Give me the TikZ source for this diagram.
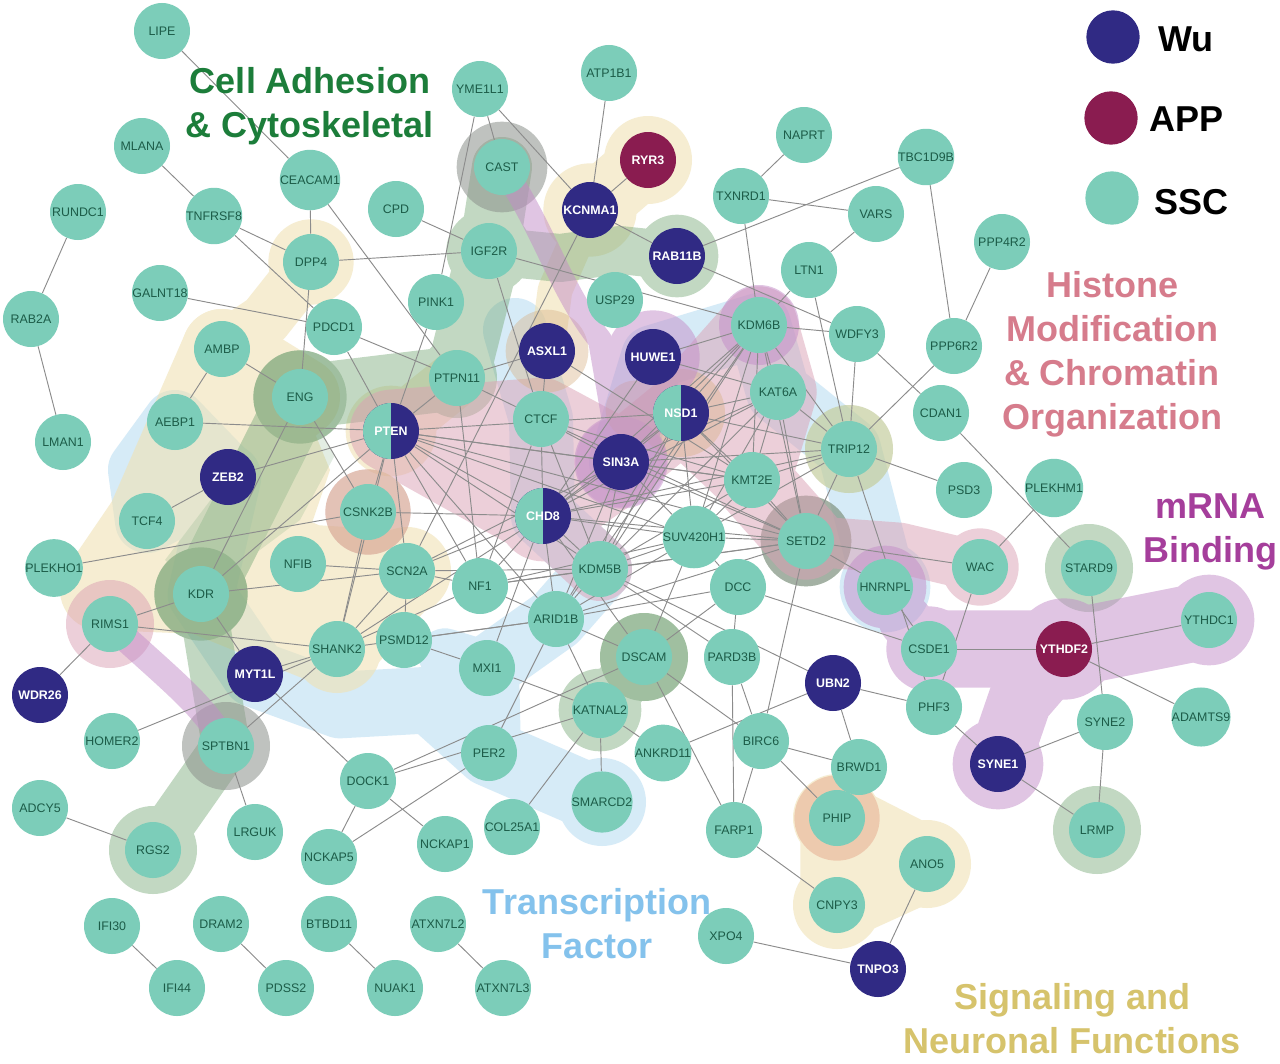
\documentclass[tikz,border=0pt]{standalone}
\usepackage{fontspec}
\setmainfont{Liberation Sans}
\pgfdeclarelayer{blobs}
\pgfdeclarelayer{edges}
\pgfsetlayers{blobs,edges,main}
\definecolor{ssc}{RGB}{124,205,185}
\definecolor{wu}{RGB}{48,42,132}
\definecolor{app}{RGB}{138,28,80}
\definecolor{gtext}{RGB}{28,92,72}
\definecolor{edgec}{RGB}{140,140,140}
\definecolor{cblue}{RGB}{188,222,243}
\definecolor{cyellow}{RGB}{240,226,180}
\definecolor{cgreen}{RGB}{120,170,120}
\definecolor{cdgreen}{RGB}{110,155,110}
\definecolor{cgray}{RGB}{140,145,140}
\definecolor{cpink}{RGB}{219,160,180}
\definecolor{cpurple}{RGB}{195,140,200}
\definecolor{ctan}{RGB}{215,176,130}
\definecolor{cpeach}{RGB}{230,168,140}
\definecolor{lgreen}{RGB}{28,125,58}
\definecolor{lpink}{RGB}{214,124,140}
\definecolor{lpurple}{RGB}{165,62,155}
\definecolor{lblue}{RGB}{132,194,236}
\definecolor{lyellow}{RGB}{214,195,108}
\newcommand\gf{\fontsize{9.3}{10}\selectfont}
\newcommand\gfb{\fontsize{9.3}{10}\selectfont\bfseries}
\newcommand\bigf{\fontsize{27}{33}\selectfont\bfseries}
\tikzset{
  gene/.style={circle, fill=ssc, minimum size=42pt, inner sep=0pt, font=\gf, text=gtext},
  wu/.style={gene, fill=wu, text=white, font=\gfb},
  app/.style={gene, fill=app, text=white, font=\gfb},
  halfnode/.style={gene, fill=wu, text=white, font=\gfb,
    path picture={\fill[ssc] (path picture bounding box.south west) rectangle (path picture bounding box.north);}},
  link/.style={draw=edgec, line width=0.7pt},
  band/.style={line cap=round, line join=round},
  grp/.style={transparency group, opacity=#1},
  biglabel/.style={font=\bigf, align=center, inner sep=0pt},
  legtext/.style={font=\bigf, anchor=west, inner sep=0pt, text=black},
  legdot/.style={circle, minimum size=40pt, inner sep=0pt},
}
\begin{document}
\begin{tikzpicture}[x=0.75pt,y=-0.75pt]
\useasboundingbox (0,0) rectangle (1280,1063);
% ---------------- nodes ----------------
\node[gene] (LIPE) at (162,31) {LIPE};
\node[gene] (YME1L1) at (480,89) {YME1L1};
\node[gene] (ATP1B1) at (609,73) {ATP1B1};
\node[gene] (NAPRT) at (804,135) {NAPRT};
\node[gene] (TBC1D9B) at (926,157) {TBC1D9B};
\node[gene] (MLANA) at (142,146) {MLANA};
\node[gene] (CEACAM1) at (310,180) {CEACAM1};
\node[gene] (CAST) at (502,167) {CAST};
\node[app] (RYR3) at (648,160) {RYR3};
\node[wu] (KCNMA1) at (590,210) {KCNMA1};
\node[gene] (TXNRD1) at (741,196) {TXNRD1};
\node[gene] (VARS) at (876,214) {VARS};
\node[gene] (PPP4R2) at (1002,242) {PPP4R2};
\node[gene] (RUNDC1) at (78,212) {RUNDC1};
\node[gene] (TNFRSF8) at (214,216) {TNFRSF8};
\node[gene] (CPD) at (396,209) {CPD};
\node[gene] (IGF2R) at (489,251) {IGF2R};
\node[wu] (RAB11B) at (677,256) {RAB11B};
\node[gene] (LTN1) at (809,270) {LTN1};
\node[gene] (DPP4) at (311,262) {DPP4};
\node[gene] (GALNT18) at (160,293) {GALNT18};
\node[gene] (PINK1) at (436,302) {PINK1};
\node[gene] (USP29) at (615,300) {USP29};
\node[gene] (RAB2A) at (31,319) {RAB2A};
\node[gene] (PDCD1) at (334,327) {PDCD1};
\node[gene] (KDM6B) at (759,325) {KDM6B};
\node[gene] (WDFY3) at (857,334) {WDFY3};
\node[gene] (PPP6R2) at (954,346) {PPP6R2};
\node[gene] (AMBP) at (222,349) {AMBP};
\node[wu] (ASXL1) at (547,351) {ASXL1};
\node[wu] (HUWE1) at (653,357) {HUWE1};
\node[gene] (ENG) at (300,397) {ENG};
\node[gene] (PTPN11) at (457,378) {PTPN11};
\node[gene] (KAT6A) at (778,392) {KAT6A};
\node[halfnode] (NSD1) at (681,413) {NSD1};
\node[gene] (CTCF) at (541,419) {CTCF};
\node[halfnode] (PTEN) at (391,431) {PTEN};
\node[gene] (AEBP1) at (175,422) {AEBP1};
\node[gene] (CDAN1) at (941,413) {CDAN1};
\node[gene] (LMAN1) at (63,442) {LMAN1};
\node[gene] (TRIP12) at (849,449) {TRIP12};
\node[wu] (SIN3A) at (621,462) {SIN3A};
\node[wu] (ZEB2) at (228,477) {ZEB2};
\node[gene] (KMT2E) at (752,480) {KMT2E};
\node[gene] (PSD3) at (964,490) {PSD3};
\node[gene] (PLEKHM1) at (1054,488) {PLEKHM1};
\node[gene] (CSNK2B) at (368,512) {CSNK2B};
\node[gene] (TCF4) at (147,521) {TCF4};
\node[halfnode] (CHD8) at (543,516) {CHD8};
\node[gene] (SUV420H1) at (694,537) {SUV420H1};
\node[gene] (SETD2) at (806,541) {SETD2};
\node[gene] (STARD9) at (1089,568) {STARD9};
\node[gene] (WAC) at (980,567) {WAC};
\node[gene] (NFIB) at (298,564) {NFIB};
\node[gene] (PLEKHO1) at (54,568) {PLEKHO1};
\node[gene] (SCN2A) at (407,571) {SCN2A};
\node[gene] (NF1) at (480,586) {NF1};
\node[gene] (KDM5B) at (600,569) {KDM5B};
\node[gene] (HNRNPL) at (885,587) {HNRNPL};
\node[gene] (DCC) at (738,587) {DCC};
\node[gene] (KDR) at (201,594) {KDR};
\node[gene] (ARID1B) at (556,619) {ARID1B};
\node[gene] (RIMS1) at (110,624) {RIMS1};
\node[gene] (YTHDC1) at (1209,620) {YTHDC1};
\node[app] (YTHDF2) at (1064,649) {YTHDF2};
\node[gene] (CSDE1) at (929,649) {CSDE1};
\node[gene] (SHANK2) at (337,649) {SHANK2};
\node[gene] (PSMD12) at (404,640) {PSMD12};
\node[gene] (DSCAM) at (644,657) {DSCAM};
\node[gene] (PARD3B) at (732,657) {PARD3B};
\node[wu] (MYT1L) at (255,674) {MYT1L};
\node[gene] (MXI1) at (487,668) {MXI1};
\node[wu] (UBN2) at (833,683) {UBN2};
\node[wu] (WDR26) at (40,695) {WDR26};
\node[gene] (KATNAL2) at (600,710) {KATNAL2};
\node[gene] (PHF3) at (934,707) {PHF3};
\node[gene] (SYNE2) at (1105,722) {SYNE2};
\node[gene] (ADAMTS9) at (1201,717) {ADAMTS9};
\node[gene] (HOMER2) at (112,741) {HOMER2};
\node[gene] (SPTBN1) at (226,746) {SPTBN1};
\node[gene] (BIRC6) at (761,741) {BIRC6};
\node[gene] (BRWD1) at (859,767) {BRWD1};
\node[gene] (PER2) at (489,753) {PER2};
\node[gene] (ANKRD11) at (663,753) {ANKRD11};
\node[wu] (SYNE1) at (998,764) {SYNE1};
\node[gene] (DOCK1) at (368,781) {DOCK1};
\node[gene] (ADCY5) at (40,808) {ADCY5};
\node[gene] (SMARCD2) at (602,802) {SMARCD2};
\node[gene] (PHIP) at (837,818) {PHIP};
\node[gene] (LRMP) at (1097,830) {LRMP};
\node[gene] (RGS2) at (153,850) {RGS2};
\node[gene] (LRGUK) at (255,832) {LRGUK};
\node[gene] (COL25A1) at (512,827) {COL25A1};
\node[gene] (FARP1) at (734,830) {FARP1};
\node[gene] (NCKAP5) at (329,857) {NCKAP5};
\node[gene] (NCKAP1) at (445,844) {NCKAP1};
\node[gene] (ANO5) at (927,864) {ANO5};
\node[gene] (CNPY3) at (837,905) {CNPY3};
\node[gene] (IFI30) at (112,926) {IFI30};
\node[gene] (DRAM2) at (221,924) {DRAM2};
\node[gene] (BTBD11) at (329,924) {BTBD11};
\node[gene] (ATXN7L2) at (438,924) {ATXN7L2};
\node[gene] (XPO4) at (726,936) {XPO4};
\node[wu] (TNPO3) at (878,969) {TNPO3};
\node[gene] (IFI44) at (177,988) {IFI44};
\node[gene] (PDSS2) at (286,988) {PDSS2};
\node[gene] (NUAK1) at (395,988) {NUAK1};
\node[gene] (ATXN7L3) at (503,988) {ATXN7L3};
% ---------------- labels ----------------
\node[biglabel, text=lgreen] (lblcell) at (310,106) {Cell Adhesion\\\& Cytoskeletal};
\node[biglabel, text=lpink] (lblhist) at (1112,354) {Histone\\Modification\\\& Chromatin\\Organization};
\node[biglabel, text=lpurple] (lblmrna) at (1210,532) {mRNA\\Binding};
\node[biglabel, text=lblue] (lbltf) at (597,924) {Transcription\\Factor};
\node[biglabel, text=lyellow] (lblsig) at (1072,1019) {Signaling and\\Neuronal Functions};
% legend
\node[legdot, fill=wu] (legwu) at (1113,37) {};
\node[legtext] (legwut) at (1158,39) {Wu};
\node[legdot, fill=app] (legapp) at (1111,118) {};
\node[legtext] (legappt) at (1149,119) {APP};
\node[legdot, fill=ssc] (legssc) at (1112,198) {};
\node[legtext] (legssct) at (1154,202) {SSC};
% ---------------- edges ----------------
\begin{pgfonlayer}{edges}
\foreach \a/\b in {LIPE/CEACAM1, MLANA/TNFRSF8, RUNDC1/RAB2A, RAB2A/LMAN1, CEACAM1/DPP4, CEACAM1/PTPN11, TNFRSF8/DPP4, TNFRSF8/PDCD1, CPD/IGF2R, DPP4/IGF2R, DPP4/ENG, GALNT18/PDCD1, PDCD1/PTPN11, PDCD1/PTEN, AMBP/ENG, AMBP/AEBP1, AEBP1/PTEN, PINK1/PTEN, ZEB2/PTEN, ZEB2/TCF4, ENG/KDR, ENG/CSNK2B, PLEKHO1/CSNK2B, CSNK2B/CHD8, PTEN/CSNK2B, PTEN/PTPN11, PTEN/KDR, PTEN/SCN2A, PTEN/SHANK2, PTEN/NF1, PTEN/ARID1B, PTEN/CHD8, PTEN/KDM5B, PTEN/SIN3A, PTEN/SUV420H1, PTEN/SETD2, PTEN/KMT2E, PTEN/NSD1,
YME1L1/CAST, YME1L1/KCNMA1, YME1L1/PINK1, ATP1B1/KCNMA1, RYR3/KCNMA1, KCNMA1/RAB11B, KCNMA1/SCN2A, IGF2R/KDM6B, IGF2R/CTCF, PTPN11/ASXL1, PTPN11/CTCF, PTPN11/NF1, RAB11B/TBC1D9B, RAB11B/WDFY3, TXNRD1/NAPRT, TXNRD1/VARS, TXNRD1/KDM6B, VARS/LTN1, LTN1/KDM6B, LTN1/TRIP12, KDM6B/WDFY3, KDM6B/HUWE1, KDM6B/KAT6A, HUWE1/KAT6A, HUWE1/CHD8, ASXL1/KMT2E, ASXL1/CTCF, CTCF/SIN3A, CTCF/CHD8, CTCF/KDM5B, CTCF/NF1, CTCF/SETD2,
TBC1D9B/PPP6R2, PPP4R2/PPP6R2, WDFY3/CDAN1, WDFY3/TRIP12, PPP6R2/TRIP12, TRIP12/PSD3, TRIP12/PHF3, CDAN1/STARD9, PLEKHM1/WAC, SETD2/WAC, SETD2/HNRNPL, HNRNPL/CSDE1, DCC/CSDE1, WAC/PHF3, CSDE1/YTHDF2, YTHDF2/YTHDC1, YTHDF2/ADAMTS9, STARD9/SYNE2, SYNE2/SYNE1, SYNE2/LRMP, SYNE1/LRMP, PHF3/SYNE1, UBN2/PHF3, UBN2/BRWD1, BRWD1/PHIP, ANO5/TNPO3, XPO4/TNPO3,
NF1/ARID1B, NF1/SCN2A, NF1/KDM5B, NF1/CHD8, ARID1B/DSCAM, ARID1B/KATNAL2, ARID1B/PER2, KATNAL2/SMARCD2, KATNAL2/COL25A1, KATNAL2/ANKRD11, MXI1/KATNAL2, MXI1/CHD8, PSMD12/MXI1, PSMD12/SCN2A, PSMD12/ARID1B, DSCAM/BIRC6, DSCAM/FARP1, DSCAM/SUV420H1, DSCAM/DCC, DSCAM/DOCK1, KATNAL2/DOCK1, PER2/NCKAP5, DOCK1/NCKAP5, DOCK1/NCKAP1, DOCK1/MYT1L, MYT1L/SHANK2, MYT1L/KDR, RIMS1/SHANK2, RIMS1/KDR, RIMS1/WDR26, HOMER2/SHANK2, SPTBN1/SHANK2, SPTBN1/LRGUK, ADCY5/RGS2, IFI30/IFI44, DRAM2/PDSS2, BTBD11/NUAK1, ATXN7L2/ATXN7L3, KDR/SCN2A, NFIB/SCN2A, SHANK2/SCN2A, SHANK2/CSNK2B, SHANK2/NF1, SHANK2/CHD8, SHANK2/ARID1B, PARD3B/FARP1, PARD3B/BIRC6, KDM5B/PARD3B, DCC/PARD3B, KDM5B/UBN2, UBN2/ANKRD11, BIRC6/BRWD1, BIRC6/PHIP, BIRC6/FARP1, SETD2/BIRC6, FARP1/CNPY3, DCC/SUV420H1,
CHD8/SIN3A, CHD8/NSD1, CHD8/KMT2E, CHD8/KDM6B, CHD8/KAT6A, CHD8/SETD2, CHD8/SUV420H1, CHD8/KDM5B, CHD8/ARID1B, CHD8/TRIP12, CHD8/DSCAM, SIN3A/NSD1, SIN3A/KDM6B, SIN3A/KAT6A, SIN3A/KMT2E, SIN3A/SETD2, SIN3A/SUV420H1, SIN3A/KDM5B, SIN3A/ARID1B, SIN3A/TRIP12, NSD1/KDM6B, NSD1/KAT6A, NSD1/KMT2E, NSD1/SETD2, NSD1/SUV420H1, NSD1/KDM5B, NSD1/ARID1B, NSD1/TRIP12, KDM6B/KMT2E, KDM6B/SETD2, KDM6B/SUV420H1, KDM6B/KDM5B, KDM6B/TRIP12, KDM6B/ARID1B, KAT6A/KMT2E, KAT6A/SETD2, KAT6A/TRIP12, KAT6A/SUV420H1, KAT6A/KDM5B, KMT2E/SETD2, KMT2E/TRIP12, KMT2E/SUV420H1, KMT2E/KDM5B, SETD2/TRIP12, SETD2/SUV420H1, SETD2/KDM5B, SETD2/ARID1B, SUV420H1/KDM5B, SUV420H1/ARID1B, KDM5B/ARID1B, TRIP12/SUV420H1, NF1/SUV420H1, SCN2A/CHD8, SCN2A/SIN3A, SCN2A/KDM5B, NF1/SETD2, ARID1B/DCC, CTCF/KMT2E}
  \draw[link] (\a) -- (\b);
\end{pgfonlayer}
% ---------------- background groups ----------------
\begin{pgfonlayer}{blobs}
\fill[white] (0,0) rectangle (1280,1063);
% transcription factor (blue)
\begin{scope}[grp=0.6]\begin{scope}[color=cblue]
\fill (AEBP1.center) -- (ZEB2.center) -- (TCF4.center) -- (140,470) -- cycle;
\draw[line width=48pt,band] (AEBP1.center) -- (ZEB2.center) -- (TCF4.center) -- (140,470) -- (AEBP1.center);
\draw[line width=50pt,band] (ZEB2.center) -- (KDR.center) -- (MYT1L.center) -- (340,705) -- (430,700) -- (PER2.center) -- (SMARCD2.center);
\draw[line width=48pt,band] (PER2.center) -- (MXI1.center) -- (ARID1B.center) -- (KDM5B.center) -- (CHD8.center) -- (CTCF.center) -- (515,330);
\draw[line width=40pt,band] (MXI1.center) -- (445,655);
\draw[line width=48pt,band] (SIN3A.center) -- (HUWE1.center) -- (KDM6B.center) -- (KAT6A.center) -- (TRIP12.center) -- (HNRNPL.center);
\fill (SMARCD2.center) circle[radius=33pt];
\fill (HNRNPL.center) circle[radius=34pt];
\end{scope}\end{scope}
% signaling and neuronal (yellow)
\begin{scope}[grp=0.6]\begin{scope}[color=cyellow]
\fill (DPP4.center) circle[radius=32pt];
\draw[line width=40pt,band] (DPP4.center) -- (265,320) -- (AMBP.center);
\fill (AMBP.center) -- (ENG.center) -- (330,470) -- (NFIB.center) -- (SHANK2.center) -- (KDR.center) -- (95,600) -- (TCF4.center) -- cycle;
\draw[line width=60pt,band] (AMBP.center) -- (TCF4.center) -- (100,590) -- (KDR.center) -- (NFIB.center) -- (SCN2A.center) -- (SHANK2.center);
\draw[line width=60pt,band] (AMBP.center) -- (ENG.center) -- (TCF4.center) -- (KDR.center) -- (SHANK2.center);
\fill (PTEN.center) circle[radius=34pt];
\draw[line width=42pt,band] (PTEN.center) -- (PTPN11.center);
\fill (NFIB.center) circle[radius=33pt];
\fill (SCN2A.center) circle[radius=33pt];
\fill (SHANK2.center) circle[radius=33pt];
\fill (KCNMA1.center) circle[radius=35pt];
\fill (RYR3.center) circle[radius=33pt];
\draw[line width=50pt,band] (KCNMA1.center) -- (RYR3.center);
\draw[line width=26pt,band] (KCNMA1.center) -- (555,290) -- (ASXL1.center);
\draw[line width=55pt,band] (PHIP.center) -- (CNPY3.center) -- (ANO5.center) -- (PHIP.center);
\fill (PHIP.center) circle[radius=33pt];
\fill (CNPY3.center) circle[radius=33pt];
\fill (ANO5.center) circle[radius=33pt];
\fill (TRIP12.center) circle[radius=33pt];
\end{scope}\end{scope}
% cell adhesion (green)
\begin{scope}[grp=0.45]\begin{scope}[color=cgreen]
\draw[line width=45pt,band] (CAST.center) -- (IGF2R.center);
\fill (IGF2R.center) circle[radius=32pt];
\draw[line width=36pt,band] (IGF2R.center) -- (560,258) -- (620,250) -- (RAB11B.center);
\fill (RAB11B.center) circle[radius=31pt];
\draw[line width=48pt,band] (IGF2R.center) -- (PTPN11.center) -- (ENG.center);
\fill (PTPN11.center) circle[radius=30pt];
\fill (ENG.center) circle[radius=35pt];
\draw[line width=48pt,band] (ENG.center) -- (KDR.center);
\fill[opacity=0.45] (ENG.center) -- (335,455) -- (300,520) -- (KDR.center) -- (165,560) -- (ZEB2.center) -- cycle;
\fill (KDR.center) circle[radius=35pt];
\draw[line width=36pt,band] (KDR.center) -- (215,680) -- (SPTBN1.center) -- (RGS2.center);
\fill (RGS2.center) circle[radius=33pt];
\draw[line width=40pt,band] (DSCAM.center) -- (KATNAL2.center);
\fill (DSCAM.center) circle[radius=33pt];
\fill (KATNAL2.center) circle[radius=31pt];
\fill (STARD9.center) circle[radius=33pt];
\fill (LRMP.center) circle[radius=33pt];
\fill (SETD2.center) circle[radius=34pt];
\end{scope}\end{scope}
\begin{scope}[grp=0.4]\begin{scope}[color=cdgreen]
\fill (ENG.center) circle[radius=35pt];
\fill (KDR.center) circle[radius=35pt];
\fill (DSCAM.center) circle[radius=33pt];
\end{scope}\end{scope}
\begin{scope}[grp=0.25]\begin{scope}[color=cgreen]
\fill (TRIP12.center) circle[radius=33pt];
\end{scope}\end{scope}
\begin{scope}[grp=0.55]\begin{scope}[color=cgray]
\fill (CAST.center) circle[radius=34pt];
\fill (SPTBN1.center) circle[radius=33pt];
\fill (SETD2.center) circle[radius=34pt];
\end{scope}\end{scope}
% histone and chromatin (pink)
\begin{scope}[grp=0.5]\begin{scope}[color=cpink]
\fill (PTEN.center) -- (CHD8.center) -- (SIN3A.center) -- (CTCF.center) -- cycle;
\draw[line width=62pt,band] (PTEN.center) -- (CHD8.center) -- (SIN3A.center) -- (CTCF.center) -- (PTEN.center);
\draw[line width=58pt,band] (SIN3A.center) -- (NSD1.center) -- (KDM6B.center) -- (KAT6A.center) -- (KMT2E.center) -- (SETD2.center);
\fill (KDM6B.center) -- (KAT6A.center) -- (KMT2E.center) -- (NSD1.center) -- cycle;
\draw[line width=55pt,band] (NSD1.center) -- (KMT2E.center);
\draw[line width=48pt,band] (CHD8.center) -- (KDM5B.center);
\draw[line width=38pt,band] (SETD2.center) -- (900,548) -- (WAC.center);
\fill (WAC.center) circle[radius=29pt];
\fill (CSNK2B.center) circle[radius=32pt];
\fill (RIMS1.center) circle[radius=33pt];
\fill (CHD8.center) circle[radius=34pt];
\end{scope}\end{scope}
\begin{scope}[grp=0.5]\begin{scope}[color=cpeach]
\fill (PHIP.center) circle[radius=32pt];
\end{scope}\end{scope}
% tan accents
\begin{scope}[grp=0.4]\begin{scope}[color=ctan]
\fill (ASXL1.center) circle[radius=31pt];
\draw[line width=44pt,band] (NSD1.center) -- (635,410);
\fill (NSD1.center) circle[radius=33pt];
\fill (CSNK2B.center) circle[radius=32pt];
\end{scope}\end{scope}
% mRNA binding (purple)
\begin{scope}[grp=0.5]\begin{scope}[color=cpurple]
\draw[line width=18pt,band] (CAST.center) .. controls (545,230) and (560,290) .. (600,340) -- (SIN3A.center);
\fill (HUWE1.center) circle[radius=35pt];
\draw[line width=44pt,band] (HUWE1.center) -- (SIN3A.center);
\fill (SIN3A.center) circle[radius=35pt];
\fill (KDM6B.center) circle[radius=30pt];
\fill (HNRNPL.center) circle[radius=31pt];
\draw[line width=58pt,band] (CSDE1.center) -- (YTHDF2.center) -- (YTHDC1.center);
\draw[line width=48pt,band] (YTHDF2.center) -- (1020,700) -- (SYNE1.center);
\draw[line width=40pt,band] (CSDE1.center) -- (905,620);
\fill (CSDE1.center) circle[radius=32pt];
\fill (YTHDF2.center) circle[radius=38pt];
\fill (YTHDC1.center) circle[radius=34pt];
\fill (SYNE1.center) circle[radius=34pt];
\draw[line width=20pt,band] (RIMS1.center) .. controls (170,680) and (205,705) .. (SPTBN1.center);
\end{scope}\end{scope}
\begin{scope}[grp=0.3]\begin{scope}[color=cpurple]
\fill (SIN3A.center) circle[radius=34pt];
\end{scope}\end{scope}
\end{pgfonlayer}
\end{tikzpicture}
\end{document}
